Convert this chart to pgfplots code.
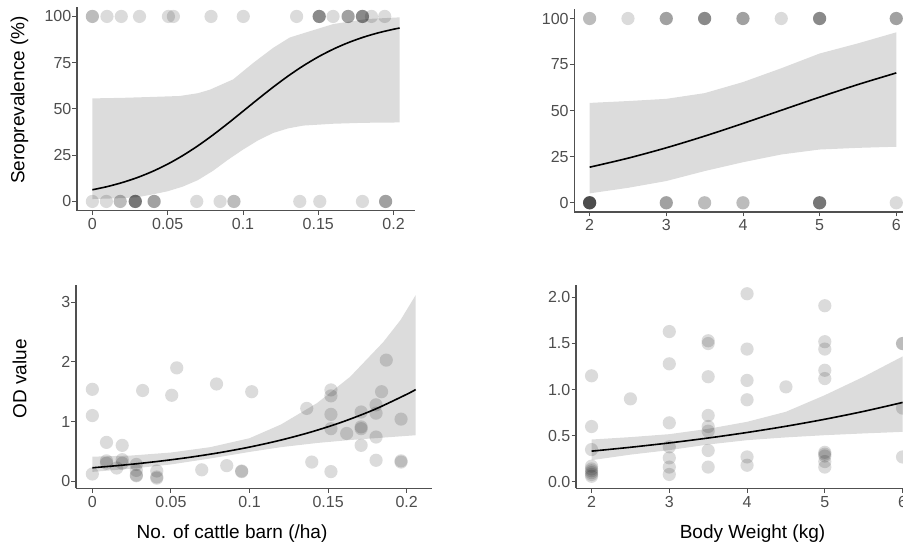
\documentclass[border=0pt]{standalone}
\usepackage{fontspec}
\setmainfont{Liberation Sans}
\usepackage{pgfplots}
\pgfplotsset{compat=1.18}
\definecolor{band}{RGB}{220,220,220}
\definecolor{axisgray}{RGB}{80,80,80}
\definecolor{tickgray}{RGB}{77,77,77}
\pgfplotsset{
  panel/.style={
    scale only axis, anchor=south west,
    axis x line=bottom, axis y line=left,
    axis line style={-, draw=axisgray, line width=1.1pt},
    tick style={draw=axisgray, line width=0.9pt},
    tick align=outside, major tick length=4.5pt,
    ticklabel style={font=\fontsize{16}{16}\selectfont, text=tickgray},
    yticklabel style={anchor=east, inner sep=0pt, xshift=-1pt},
    xticklabel style={anchor=north, inner sep=0pt, yshift=-3pt},
    /pgf/number format/assume math mode=true,
  },
  pts/.style={only marks, mark=*, mark size=6.6pt, draw opacity=0,
    mark options={draw opacity=0, line width=0pt, fill=black, fill opacity=0.14}},
  fit/.style={black, line width=1.6pt, smooth, no marks},
  bandst/.style={fill=band, draw=none, no marks},
}
\begin{document}
\begin{tikzpicture}
\useasboundingbox (0,0) rectangle (903pt,545pt);
\clip (0,0) rectangle (903pt,545pt);
% ---------------- top left
\begin{axis}[panel, at={(77pt,334.3pt)}, width=338pt, height=203.5pt,
  xmin=-0.0102, xmax=0.2142, ymin=-5, ymax=105,
  xtick={0,0.05,0.1,0.15,0.2}, xticklabels={0,0.05,0.1,0.15,0.2},
  ytick={0,25,50,75,100}, yticklabels={0,25,50,75,100}]
\addplot[bandst] coordinates {
 (0,55.7)(0.02,56)(0.04,56.5)(0.058,57)(0.07,58.5)(0.078,60.4)(0.0935,66)(0.107,75)(0.12,83)(0.131,88.6)(0.142,91.4)(0.16,95.9)(0.182,98.6)(0.204,99.5)
 (0.204,42.7)(0.18,42.5)(0.16,42)(0.14,41)(0.13,39.5)(0.12,37)(0.11,33)(0.10,28)(0.09,22.5)(0.08,16.5)(0.07,11.5)(0.06,8)(0.05,5.5)(0.04,3.8)(0.03,2.3)(0.02,1.8)(0,1.3)};
\addplot[pts] coordinates {
 (0,100)(0,100)(0.0097,100)(0.0192,100)(0.0313,100)(0.0505,100)(0.0538,100)(0.0788,100)(0.1002,100)(0.1356,100)
 (0.1506,100)(0.1506,100)(0.1506,100)(0.1506,100)(0.1598,100)(0.1698,100)(0.1698,100)(0.1698,100)
 (0.1793,100)(0.1793,100)(0.1793,100)(0.1793,100)(0.1853,100)(0.1941,100)
 (0,0)(0.0093,0)(0.0185,0)(0.0185,0)(0.0285,0)(0.0285,0)(0.0285,0)(0.0285,0)(0.0285,0)
 (0.041,0)(0.041,0)(0.041,0)(0.0693,0)(0.0848,0)(0.094,0)(0.094,0)(0.1377,0)(0.151,0)(0.1793,0)
 (0.1947,0)(0.1947,0)(0.1947,0)};
\addplot[fit] coordinates {
 (0,6.30)(0.01,8.05)(0.02,10.25)(0.03,12.95)(0.04,16.25)(0.05,20.18)(0.06,24.79)(0.07,30.05)(0.08,35.89)(0.09,42.19)
 (0.10,48.75)(0.11,55.35)(0.12,61.77)(0.13,67.81)(0.14,73.30)(0.15,78.16)(0.16,82.34)(0.17,85.87)(0.18,88.80)(0.19,91.18)(0.20,93.09)(0.204,93.74)};
\end{axis}
% ---------------- top right
\begin{axis}[panel, at={(574.3pt,333pt)}, width=337.3pt, height=202.7pt,
  xmin=1.8, xmax=6.2, ymin=-5, ymax=105,
  xtick={2,3,4,5,6}, xticklabels={2,3,4,5,6},
  ytick={0,25,50,75,100}, yticklabels={0,25,50,75,100}]
\addplot[bandst] coordinates {
 (2,54.2)(2.5,55.2)(3,56.4)(3.5,59.5)(4,65.5)(4.5,73)(5,81)(5.5,86.5)(6,92.5)
 (6,30.4)(5.5,29.8)(5,28.9)(4.5,26.2)(4,22)(3.5,17.2)(3,11.8)(2.5,8.1)(2,5.1)};
\addplot[pts] coordinates {
 (2,100)(2,100)(2.5,100)(3,100)(3,100)(3,100)(3.5,100)(3.5,100)(3.5,100)(3.5,100)
 (4,100)(4,100)(4,100)(4.5,100)(5,100)(5,100)(5,100)(5,100)(6,100)(6,100)(6,100)
 (2,0)(2,0)(2,0)(2,0)(2,0)(2,0)(2,0)(2,0)(3,0)(3,0)(3,0)(3.5,0)(3.5,0)(4,0)(4,0)
 (5,0)(5,0)(5,0)(5,0)(5,0)(6,0)};
\addplot[fit] coordinates {
 (2,19.31)(2.5,24.19)(3,29.84)(3.5,36.18)(4,43.05)(4.5,50.19)(5,57.32)(5.5,64.17)(6,70.47)};
\end{axis}
% ---------------- bottom left
\begin{axis}[panel, at={(76pt,56.7pt)}, width=355.7pt, height=203.3pt,
  xmin=-0.0104, xmax=0.2159, ymin=-0.12, ymax=3.29,
  xtick={0,0.05,0.1,0.15,0.2}, xticklabels={0,0.05,0.1,0.15,0.2},
  ytick={0,1,2,3}, yticklabels={0,1,2,3}]
\addplot[bandst] coordinates {
 (0,0.41)(0.025,0.43)(0.05,0.48)(0.075,0.57)(0.10,0.72)(0.12,0.95)(0.143,1.31)(0.164,1.75)(0.185,2.33)(0.196,2.70)(0.2057,3.12)
 (0.2057,0.77)(0.185,0.73)(0.164,0.69)(0.143,0.64)(0.12,0.57)(0.10,0.49)(0.075,0.38)(0.05,0.28)(0.025,0.21)(0,0.155)};
\addplot[pts] coordinates {
 (0,1.54)(0,1.10)(0,0.12)
 (0.009,0.65)(0.009,0.34)(0.009,0.30)(0.0155,0.22)
 (0.019,0.60)(0.019,0.36)(0.019,0.30)
 (0.028,0.28)(0.028,0.18)(0.028,0.10)(0.028,0.09)(0.032,1.52)
 (0.041,0.17)(0.041,0.07)(0.041,0.05)
 (0.0505,1.44)(0.0537,1.90)(0.0696,0.19)(0.079,1.63)(0.0855,0.26)(0.095,0.17)(0.095,0.16)(0.1014,1.50)
 (0.1364,1.22)(0.1396,0.32)
 (0.1518,1.53)(0.1518,1.43)(0.1518,1.12)(0.1518,0.88)(0.1518,0.16)(0.1618,0.80)
 (0.171,1.16)(0.171,0.91)(0.171,0.88)(0.171,0.60)
 (0.1805,1.28)(0.1805,1.14)(0.1805,0.74)(0.1805,0.35)
 (0.184,1.50)(0.187,2.03)(0.1964,1.04)(0.1964,0.34)(0.1964,0.32)};
\addplot[fit] coordinates {
 (0,0.224)(0.02,0.2702)(0.04,0.3258)(0.06,0.3928)(0.08,0.4737)(0.10,0.5712)(0.12,0.6888)(0.14,0.8306)(0.16,1.0016)(0.18,1.2078)(0.20,1.4565)(0.2057,1.5363)};
\end{axis}
% ---------------- bottom right
\begin{axis}[panel, at={(576pt,56.7pt)}, width=342.1pt, height=203.3pt,
  xmin=1.8, xmax=6.2, ymin=-0.07, ymax=2.135,
  xtick={2,3,4,5,6}, xticklabels={2,3,4,5,6},
  ytick={0,0.5,1,1.5,2}, yticklabels={0.0,0.5,1.0,1.5,2.0}]
\addplot[bandst] coordinates {
 (2,0.459)(2.5,0.485)(3,0.517)(3.5,0.575)(4,0.651)(4.5,0.76)(5,0.94)(5.5,1.14)(6,1.36)
 (6,0.542)(5.5,0.525)(5,0.506)(4.5,0.482)(4,0.452)(3.5,0.405)(3,0.344)(2.5,0.295)(2,0.235)};
\addplot[pts] coordinates {
 (2,1.15)(2,0.60)(2,0.35)(2,0.17)(2,0.14)(2,0.12)(2,0.10)(2,0.08)(2,0.06)
 (2.5,0.90)
 (3,1.63)(3,1.28)(3,0.64)(3,0.38)(3,0.26)(3,0.16)(3,0.08)
 (3.5,1.53)(3.5,1.50)(3.5,1.14)(3.5,0.72)(3.5,0.60)(3.5,0.55)(3.5,0.34)(3.5,0.16)
 (4,2.04)(4,1.44)(4,1.10)(4,0.89)(4,0.27)(4,0.18)
 (4.5,1.03)
 (5,1.91)(5,1.52)(5,1.44)(5,1.21)(5,1.12)(5,0.32)(5,0.30)(5,0.28)(5,0.22)(5,0.16)
 (6,1.50)(6,1.50)(6,0.80)(6,0.27)};
\addplot[fit] coordinates {
 (2,0.3329)(2.5,0.3749)(3,0.4221)(3.5,0.4753)(4,0.5353)(4.5,0.6028)(5,0.6788)(5.5,0.7643)(6,0.8607)};
\end{axis}
% ---------------- axis titles
\node[rotate=90, font=\fontsize{19}{19}\selectfont] at (19.5pt,445pt) {Seroprevalence (\%)};
\node[rotate=90, font=\fontsize{19}{19}\selectfont] at (19.5pt,166pt) {OD value};
\node[anchor=base, font=\fontsize{19}{19}\selectfont] at (232pt,6.7pt) {No. of cattle barn (/ha)};
\node[anchor=base, font=\fontsize{19}{19}\selectfont] at (752.5pt,6.7pt) {Body Weight (kg)};
\end{tikzpicture}
\end{document}
